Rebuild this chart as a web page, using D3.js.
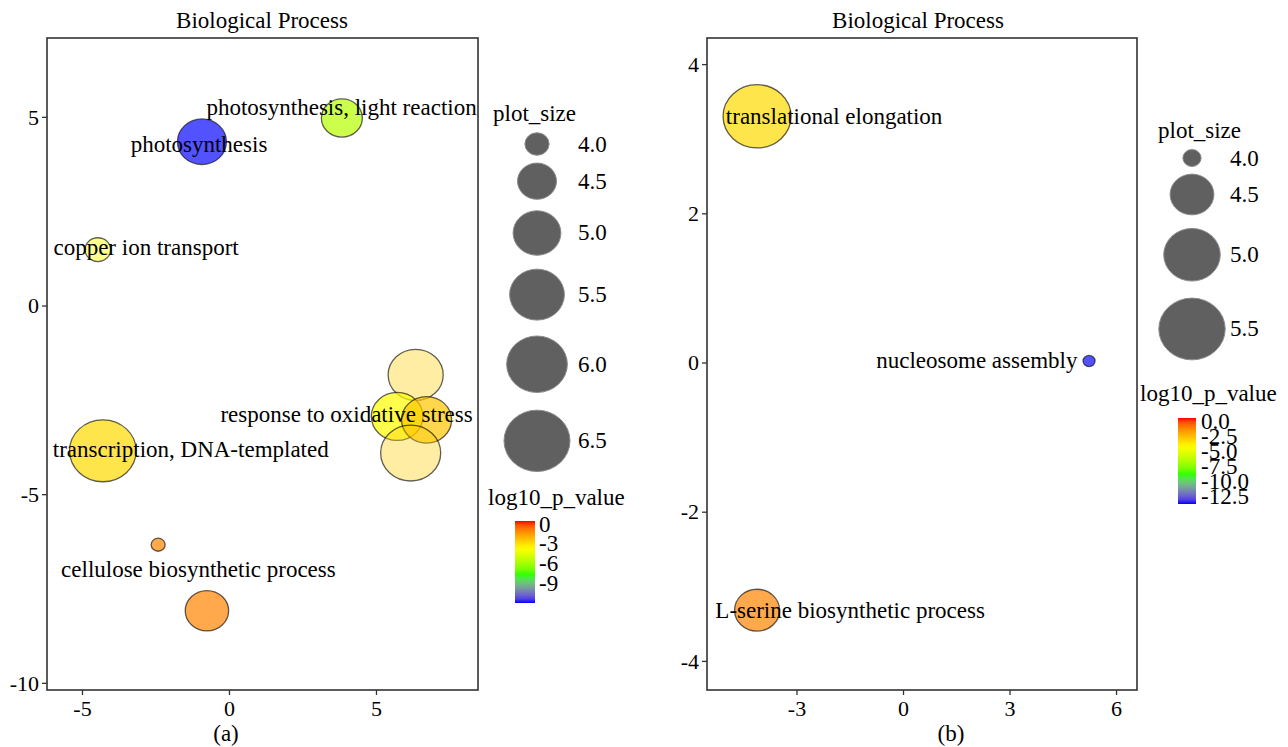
<!DOCTYPE html>
<html><head><meta charset="utf-8">
<script src="https://cdn.jsdelivr.net/npm/d3@7"></script>
<style>
body{margin:0;background:#fff;}
svg text{font-family:"Liberation Serif","Times New Roman",serif;fill:#000;}
</style></head><body>
<svg id="c" width="1288" height="747"></svg>
<script>
// ================= DATA: panel (a) =================
const bubbleTermsA = ["photosynthesis, light reaction","photosynthesis","copper ion transport",
  "cluster term 1","cluster term 2","cluster term 3","cluster term 4",
  "transcription, DNA-templated","small term","cellulose biosynthetic process"];
const plotXA = [3.84, -0.92, -4.46, 6.35, 5.72, 6.72, 6.18, -4.29, -2.41, -0.75];
const plotYA = [4.97, 4.34, 1.48, -1.84, -2.94, -3.03, -3.91, -3.85, -6.34, -8.09];
const plotSizeA = [4.60, 5.08, 4.03, 5.52, 5.26, 5.15, 5.94, 6.56, 3.90, 4.73];
const log10PA = [-6.0, -12.4, -4.1, -3.0, -4.1, -2.8, -3.0, -3.3, -1.45, -1.45];
const labelTextA = ["photosynthesis, light reaction","photosynthesis","copper ion transport",
  "response to oxidative stress","transcription, DNA-templated","cellulose biosynthetic process"];
const labelXA = [3.83, -1.02, -2.82, 4.0, -1.30, -1.04];
const labelYA = [5.24, 4.26, 1.53, -2.89, -3.82, -7.0];
const xTicksA = [-5, 0, 5];
const yTicksA = [5, 0, -5, -10];
const sizeBreaksA = [4.0, 4.5, 5.0, 5.5, 6.0, 6.5];
const colorTicksA = [0, -3, -6, -9];
const colorMinA = -12.4;

// ================= DATA: panel (b) =================
const bubbleTermsB = ["translational elongation","nucleosome assembly","L-serine biosynthetic process"];
const plotXB = [-4.11, 5.24, -4.11];
const plotYB = [3.30, 0.02, -3.32];
const plotSizeB = [5.59, 3.98, 4.54];
const log10PB = [-3.8, -14.3, -1.67];
const labelTextB = ["translational elongation","nucleosome assembly","L-serine biosynthetic process"];
const labelXB = [-1.94, 2.08, -1.49];
const labelYB = [3.30, 0.03, -3.32];
const xTicksB = [-3, 0, 3, 6];
const yTicksB = [4, 2, 0, -2, -4];
const sizeBreaksB = [4.0, 4.5, 5.0, 5.5];
const colorTicksB = [0, -2.5, -5, -7.5, -10, -12.5];
const colorMinB = -14.3;

// ================= STYLE (per-bubble fill alpha) =================
const fillAlphaA = [0.7, 0.68, 0.45, 0.36, 0.7, 0.7, 0.36, 0.7, 0.7, 0.7];
const fillAlphaB = [0.7, 0.68, 0.7];
const ASPECT = 0.93;

const svg = d3.select("#c");
const defs = svg.append("defs");
const hyphen = f => d => f(d).replace("\u2212","-");

function sizeScale(values, rmin, rmax){
  const t = d3.scaleLinear().domain(d3.extent(values)).range([0,1]).clamp(true);
  const r = d3.scaleLinear().domain([0,1]).range([rmin, rmax]);
  return v => r(Math.sqrt(t(v)));
}
function colorScale(min){
  return d3.scaleLinear().domain([min, min*2/3, min/3, 0])
    .range(["#0000ff","#00ff00","#ffff00","#ff0000"]).interpolate(d3.interpolateLab);
}

function drawPanel(cfg){
  const g = svg.append("g");
  const x = d3.scaleLinear().domain(cfg.xDomain).range([cfg.box[0], cfg.box[1]]);
  const y = d3.scaleLinear().domain(cfg.yDomain).range([cfg.box[3], cfg.box[2]]);
  const r = sizeScale(cfg.sizes, cfg.rRange[0], cfg.rRange[1]);
  const col = colorScale(cfg.cmin);

  g.append("text").attr("x", cfg.titleX).attr("y", 28).attr("text-anchor","middle")
    .style("font-size","23px").text("Biological Process");

  const xa = d3.axisBottom(x).tickValues(cfg.xTicks).tickSize(5).tickPadding(3).tickFormat(hyphen(d3.format("d")));
  const ya = d3.axisLeft(y).tickValues(cfg.yTicks).tickSize(5).tickPadding(3).tickFormat(hyphen(d3.format("d")));
  const gx = g.append("g").attr("transform",`translate(0,${cfg.box[3]})`).call(xa);
  const gy = g.append("g").attr("transform",`translate(${cfg.box[0]},0)`).call(ya);
  [gx, gy].forEach(a=>{
    a.select(".domain").remove();
    a.selectAll("line").attr("stroke","#333").attr("stroke-width",1.3);
    a.selectAll("text").style("font-size","22px").attr("fill","#000")
      .style("font-family",'"Liberation Serif",serif');
  });
  gx.selectAll("text").attr("dy","0.71em").attr("y",10);
  gy.selectAll("text").attr("dy","0.33em");

  const idx = d3.range(cfg.xs.length);
  g.append("g").selectAll("ellipse").data(idx).join("ellipse")
    .attr("cx", i=>x(cfg.xs[i])).attr("cy", i=>y(cfg.ys[i]))
    .attr("rx", i=>r(cfg.sizes[i])).attr("ry", i=>r(cfg.sizes[i])*ASPECT)
    .attr("fill", i=>col(cfg.logp[i])).attr("fill-opacity", i=>cfg.alpha[i])
    .attr("stroke","rgba(0,0,0,0.62)").attr("stroke-width",1.3);

  g.append("g").selectAll("text").data(d3.range(cfg.labels.length)).join("text")
    .attr("x", i=>x(cfg.lx[i])).attr("y", i=>y(cfg.ly[i]))
    .attr("text-anchor","middle").attr("dominant-baseline","central")
    .style("font-size","23px").text(i=>cfg.labels[i]);

  g.append("rect").attr("x",cfg.box[0]).attr("y",cfg.box[2])
    .attr("width",cfg.box[1]-cfg.box[0]).attr("height",cfg.box[3]-cfg.box[2])
    .attr("fill","none").attr("stroke","#333").attr("stroke-width",1.6);

  g.append("text").attr("x",cfg.capX).attr("y",741).attr("text-anchor","middle")
    .style("font-size","23px").text(cfg.caption);

  const L = cfg.legend;
  g.append("text").attr("x",L.sizeTitleX).attr("y",L.sizeTitleY).style("font-size","23px").text("plot_size");
  let cy = L.keyTop;
  const keys = cfg.sizeBreaks.map(v=>{
    const rr = r(v); const h = 2.48*rr - 2;
    const c = cy + h/2; cy += h; return {v, rr, c};
  });
  g.append("g").selectAll("ellipse").data(keys).join("ellipse")
    .attr("cx",L.keyX).attr("cy",d=>d.c).attr("rx",d=>d.rr).attr("ry",d=>d.rr*ASPECT)
    .attr("fill","#606060").attr("stroke","#8c8c8c").attr("stroke-width",1);
  g.append("g").selectAll("text").data(keys).join("text")
    .attr("x",L.keyLabelX).attr("y",d=>d.c).attr("dominant-baseline","central")
    .style("font-size","23px").text(d=>d3.format(".1f")(d.v));

  g.append("text").attr("x",L.colTitleX).attr("y",L.colTitleY).style("font-size","23px").text("log10_p_value");
  const gid = "grad"+cfg.caption.replace(/\W/g,"");
  const grad = defs.append("linearGradient").attr("id",gid).attr("x1",0).attr("x2",0).attr("y1",0).attr("y2",1);
  d3.range(0,21).forEach(k=>{
    const v = cfg.cmin*k/20;
    grad.append("stop").attr("offset",(k/20*100)+"%").attr("stop-color",col(v));
  });
  g.append("rect").attr("x",L.barX).attr("y",L.barY0).attr("width",L.barW).attr("height",L.barY1-L.barY0)
    .attr("fill",`url(#${gid})`);
  const cy2 = d3.scaleLinear().domain([0,cfg.cmin]).range([L.barY0,L.barY1]);
  g.append("g").selectAll("text").data(cfg.colorTicks).join("text")
    .attr("x",L.barLabelX).attr("y",d=>cy2(d)+3).attr("dominant-baseline","central")
    .style("font-size","23px").text(hyphen(cfg.colorFmt));
}

drawPanel({
  box:[47,478,38,690], xDomain:[-6.19,8.47], yDomain:[-10.19,7.09],
  xTicks:xTicksA, yTicks:yTicksA, titleX:262, capX:226, caption:"(a)",
  xs:plotXA, ys:plotYA, sizes:plotSizeA, logp:log10PA, alpha:fillAlphaA,
  labels:labelTextA, lx:labelXA, ly:labelYA, rRange:[7,33.3], cmin:colorMinA,
  sizeBreaks:sizeBreaksA, colorTicks:colorTicksA, colorFmt:d3.format("d"),
  legend:{sizeTitleX:493,sizeTitleY:121,keyTop:130,keyX:537,keyLabelX:578,
    colTitleX:488,colTitleY:505,barX:515,barW:20,barY0:521,barY1:603,barLabelX:539}
});
drawPanel({
  box:[707,1137,38,690], xDomain:[-5.52,6.59], yDomain:[-4.39,4.35],
  xTicks:xTicksB, yTicks:yTicksB, titleX:918, capX:951, caption:"(b)",
  xs:plotXB, ys:plotYB, sizes:plotSizeB, logp:log10PB, alpha:fillAlphaB,
  labels:labelTextB, lx:labelXB, ly:labelYB, rRange:[6,34], cmin:colorMinB,
  sizeBreaks:sizeBreaksB, colorTicks:colorTicksB, colorFmt:d3.format(".1f"),
  legend:{sizeTitleX:1158,sizeTitleY:138,keyTop:147.7,keyX:1192,keyLabelX:1230,
    colTitleX:1140,colTitleY:401,barX:1178,barW:18,barY0:418,barY1:504,barLabelX:1201}
});
</script>
</body></html>
